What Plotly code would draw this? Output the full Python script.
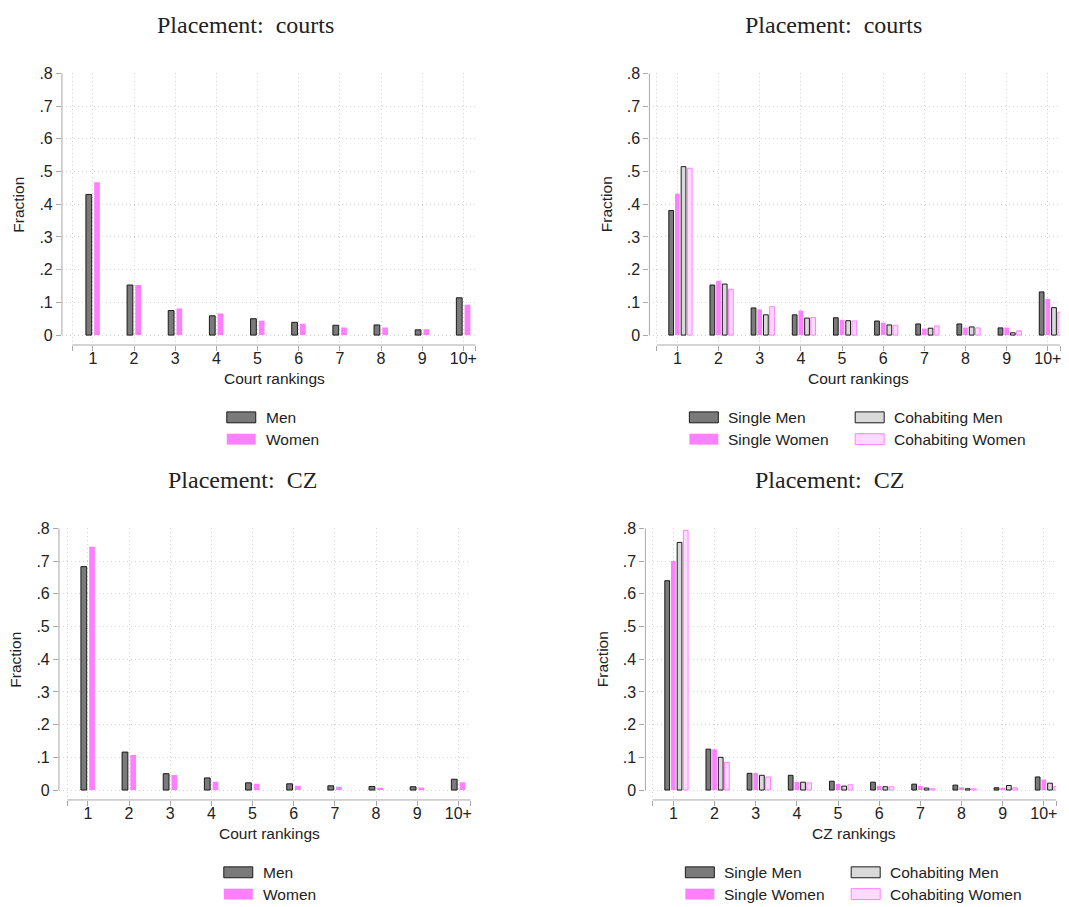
import plotly.graph_objects as go

# ---------------- data ----------------
rank_labels = ["1", "2", "3", "4", "5", "6", "7", "8", "9", "10+"]
rank_pos = [1, 2, 3, 4, 5, 6, 7, 8, 9, 10]

# Placement: courts, by gender
court_men = [0.430, 0.153, 0.075, 0.059, 0.050, 0.039, 0.030, 0.031, 0.016, 0.114]
court_women = [0.467, 0.153, 0.081, 0.066, 0.044, 0.035, 0.023, 0.023, 0.018, 0.093]

# Placement: courts, by gender and cohabitation status
court_single_men = [0.381, 0.153, 0.083, 0.062, 0.053, 0.043, 0.034, 0.034, 0.022, 0.132]
court_single_women = [0.432, 0.166, 0.078, 0.075, 0.047, 0.038, 0.020, 0.023, 0.023, 0.110]
court_cohab_men = [0.515, 0.156, 0.062, 0.052, 0.044, 0.031, 0.021, 0.025, 0.007, 0.084]
court_cohab_women = [0.510, 0.140, 0.087, 0.054, 0.043, 0.030, 0.028, 0.022, 0.013, 0.070]

# Placement: CZ, by gender
cz_men = [0.683, 0.116, 0.050, 0.037, 0.022, 0.019, 0.013, 0.011, 0.010, 0.033]
cz_women = [0.744, 0.107, 0.046, 0.025, 0.019, 0.013, 0.010, 0.007, 0.008, 0.024]

# Placement: CZ, by gender and cohabitation status
cz_single_men = [0.640, 0.125, 0.051, 0.045, 0.027, 0.024, 0.018, 0.015, 0.007, 0.040]
cz_single_women = [0.700, 0.125, 0.052, 0.025, 0.019, 0.013, 0.013, 0.008, 0.007, 0.032]
cz_cohab_men = [0.757, 0.100, 0.045, 0.024, 0.012, 0.010, 0.006, 0.004, 0.014, 0.021]
cz_cohab_women = [0.794, 0.085, 0.040, 0.022, 0.016, 0.010, 0.004, 0.004, 0.007, 0.011]

y_ticks = [0, 0.1, 0.2, 0.3, 0.4, 0.5, 0.6, 0.7, 0.8]
y_tick_text = ["0", ".1", ".2", ".3", ".4", ".5", ".6", ".7", ".8"]

# ---------------- styles ----------------
W, H = 1069, 907
SANS = "Liberation Sans, Arial, sans-serif"
SERIF = "Liberation Serif, Times New Roman, serif"
TXT = "#222222"
AXIS = "#a8a8a8"
GRID = "#d4d4d4"

STYLE = {
    "Men": dict(fill="#7a7a7a", line="#1a1a1a", lw=1),
    "Women": dict(fill="#ff80ff", line="#ff80ff", lw=0),
    "Single Men": dict(fill="#7a7a7a", line="#1a1a1a", lw=1),
    "Single Women": dict(fill="#ff80ff", line="#ff80ff", lw=0),
    "Cohabiting Men": dict(fill="#d9d9d9", line="#1a1a1a", lw=1),
    "Cohabiting Women": dict(fill="#ffd9ff", line="#ff80ff", lw=1),
}

PX_PER_UNIT = 41.2      # horizontal pixels per rank
PX_PER_Y = 330.0        # vertical pixels per unit of fraction
X_RIGHT = 10.3
AXIS_DROP = 10          # x axis sits below zero

panels = [
    dict(title="Placement:  courts", xtitle="Court rankings", axis_px=62, tick1_px=93, y0_px=330,
         series=[("Men", court_men), ("Women", court_women)]),
    dict(title="Placement:  courts", xtitle="Court rankings", axis_px=650, tick1_px=678, y0_px=330,
         series=[("Single Men", court_single_men), ("Single Women", court_single_women),
                 ("Cohabiting Men", court_cohab_men), ("Cohabiting Women", court_cohab_women)]),
    dict(title="Placement:  CZ", xtitle="Court rankings", axis_px=59, tick1_px=88, y0_px=789,
         series=[("Men", cz_men), ("Women", cz_women)]),
    dict(title="Placement:  CZ", xtitle="CZ rankings", axis_px=646, tick1_px=674, y0_px=789,
         series=[("Single Men", cz_single_men), ("Single Women", cz_single_women),
                 ("Cohabiting Men", cz_cohab_men), ("Cohabiting Women", cz_cohab_women)]),
]

fig = go.Figure()
layout = dict(width=W, height=H, margin=dict(l=0, r=0, t=0, b=0),
              paper_bgcolor="white", plot_bgcolor="white", barmode="overlay",
              showlegend=False, font=dict(family=SANS, color=TXT, size=15))
shapes, annotations = [], []


def px_x(p):
    return p / W


def px_y(p):
    return 1 - p / H


for i, pnl in enumerate(panels):
    k = "" if i == 0 else str(i + 1)
    xa, ya = "x" + k, "y" + k
    dy = pnl["y0_px"] - 330
    x_left = 1 - (pnl["tick1_px"] - pnl["axis_px"]) / PX_PER_UNIT
    right_px = pnl["axis_px"] + (X_RIGHT - x_left) * PX_PER_UNIT
    y_bottom = -AXIS_DROP / PX_PER_Y
    y_top = 0.802
    top_px = pnl["y0_px"] - y_top * PX_PER_Y
    bot_px = pnl["y0_px"] + AXIS_DROP

    n = len(pnl["series"])
    if n == 2:
        centers, bw = [-0.1, 0.1], 0.14
    else:
        centers, bw = [-0.15, 0.0, 0.15, 0.3], 0.115

    for (name, vals), c in zip(pnl["series"], centers):
        st = STYLE[name]
        fig.add_trace(go.Bar(
            x=rank_pos, y=vals, name=name, xaxis=xa, yaxis=ya,
            width=bw, offset=c - bw / 2,
            marker=dict(color=st["fill"], line=dict(color=st["line"], width=st["lw"])),
        ))

    layout["xaxis" + k] = dict(
        domain=[px_x(pnl["axis_px"]), px_x(right_px)], anchor=ya,
        range=[x_left, X_RIGHT],
        tickvals=[0.5] + rank_pos + [X_RIGHT], ticktext=[""] + rank_labels + [""],
        ticks="outside", ticklen=5, tickcolor=AXIS, tickwidth=1,
        tickfont=dict(family=SANS, size=16, color=TXT), ticklabelstandoff=-6,
        showgrid=True, gridcolor=GRID, griddash="1px,3px", gridwidth=1,
        showline=False, zeroline=False, fixedrange=True,
    )
    layout["yaxis" + k] = dict(
        domain=[px_y(bot_px), px_y(top_px)], anchor=xa,
        range=[y_bottom, y_top],
        tickvals=y_ticks, ticktext=y_tick_text,
        ticks="outside", ticklen=5, tickcolor=AXIS, tickwidth=1,
        tickfont=dict(family=SANS, size=16, color=TXT),
        showgrid=True, gridcolor=GRID, griddash="1px,3px", gridwidth=1,
        showline=False, zeroline=False, fixedrange=True,
    )

    # axis lines: y axis from 0 to .8, x axis detached below zero
    shapes.append(dict(type="line", xref=xa + " domain", yref=ya, x0=0, x1=0, y0=0, y1=0.8,
                       line=dict(color=AXIS, width=1)))
    shapes.append(dict(type="line", xref=xa, yref=ya + " domain", x0=0.5, x1=X_RIGHT, y0=0, y1=0,
                       line=dict(color=AXIS, width=1)))

    # titles
    annotations.append(dict(text=pnl["title"], xref="paper", yref="paper",
                            x=px_x(pnl["axis_px"] + 184), y=px_y(17 + dy),
                            xanchor="center", yanchor="middle", showarrow=False,
                            font=dict(family=SERIF, size=24, color=TXT)))
    annotations.append(dict(text=pnl["xtitle"], xref=xa, yref="paper",
                            x=(0.5 + X_RIGHT) / 2, y=px_y(374 + dy),
                            xanchor="center", yanchor="middle", showarrow=False,
                            font=dict(family=SANS, size=15.5, color=TXT)))
    annotations.append(dict(text="Fraction", xref="paper", yref="paper",
                            x=px_x(pnl["axis_px"] - 43.5), y=px_y(pnl["y0_px"] - 132),
                            xanchor="center", yanchor="middle", textangle=-90, showarrow=False,
                            font=dict(family=SANS, size=15.5, color=TXT)))

    # legend keys
    row_y = [413 + dy, 435 + dy]
    if n == 2:
        cols = [(pnl["axis_px"] + 165, [pnl["series"][0][0], pnl["series"][1][0]])]
    else:
        cols = [(pnl["axis_px"] + 40, [pnl["series"][0][0], pnl["series"][1][0]]),
                (pnl["axis_px"] + 206, [pnl["series"][2][0], pnl["series"][3][0]])]
    for cx, names in cols:
        for ry, name in zip(row_y, names):
            st = STYLE[name]
            shapes.append(dict(type="rect", xref="paper", yref="paper",
                               x0=px_x(cx), x1=px_x(cx + 29), y0=px_y(ry + 5.5), y1=px_y(ry - 5.5),
                               fillcolor=st["fill"],
                               line=dict(color=st["line"], width=st["lw"])))
            annotations.append(dict(text=name, xref="paper", yref="paper",
                                    x=px_x(cx + 37), y=px_y(ry), xanchor="left", yanchor="middle",
                                    showarrow=False, font=dict(family=SANS, size=15.5, color=TXT)))

layout["shapes"] = shapes
layout["annotations"] = annotations
fig.update_layout(**layout)
fig.write_html("out.html")
